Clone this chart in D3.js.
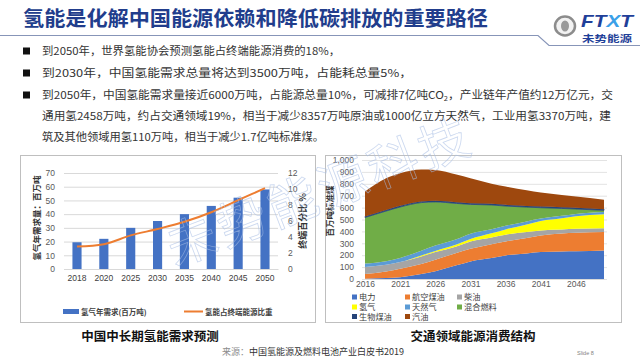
<!DOCTYPE html>
<html><head><meta charset="utf-8">
<script src="https://cdn.jsdelivr.net/npm/d3@7"></script>
<style>body{margin:0;background:#fff}svg{display:block}</style>
</head><body>
<svg id="c" width="640" height="360"></svg>
<script>
// ---------- data ----------
const titleText = "氢能是化解中国能源依赖和降低碳排放的重要路径";
const bulletLines = [
  "到2050年，世界氢能协会预测氢能占终端能源消费的18%，",
  "到2030年，中国氢能需求总量将达到3500万吨，占能耗总量5%，",
  "到2050年，中国氢能需求量接近6000万吨，占能源总量10%，可减排7亿吨CO|2|，产业链年产值约12万亿元，交",
  "通用氢2458万吨，约占交通领域19%，相当于减少8357万吨原油或1000亿立方天然气，工业用氢3370万吨，建",
  "筑及其他领域用氢110万吨，相当于减少1.7亿吨标准煤。"
];
const bulletMarks = [true, true, true, false, false];

const barYears = ["2018","2020","2025","2030","2035","2040","2045","2050"];
const h2Demand = [19.5, 22, 30, 35, 40, 46, 52, 58];     // 百万吨
const h2Share  = [2.8, 3.1, 4.2, 5.0, 5.9, 7.1, 8.6, 10.1]; // %
const leftTicks = [0,10,20,30,40,50,60,70];
const rightTicks = [0,2,4,6,8,10,12];

const areaYears = [2016,2019,2021,2024,2026,2029,2031,2034,2036,2039,2041,2044,2046,2050];
const power     = [3, 8, 15, 42, 65, 115, 148, 176, 198, 215, 226, 232, 234, 240];
const jetFuel   = [39, 56, 72, 84, 97, 103, 106, 117, 118, 129, 140, 151, 154, 154];
const diesel    = [58, 56, 55, 64, 64, 56, 62, 56, 56, 50, 42, 33, 34, 33];
const hydrogen  = [0, 0, 0, 8, 10, 15, 20, 35, 45, 65, 80, 95, 105, 118];
const natGas    = [30, 30, 35, 40, 45, 45, 45, 35, 30, 25, 20, 20, 20, 18];
const blended   = [387, 421, 428, 404, 367, 301, 246, 203, 166, 120, 91, 62, 41, 14];
const bioKero   = [8, 9, 10, 10, 10, 10, 10, 10, 10, 10, 10, 10, 10, 10];
const gasoline  = [210, 266, 273, 268, 258, 233, 209, 168, 154, 131, 117, 102, 95, 78];
const areaNames = ["电力","航空煤油","柴油","氢气","天然气","混合燃料","生物煤油","汽油"];
const areaColors = ["#4472C4","#ED7D31","#A5A5A5","#FFFF00","#5B9BD5","#70AD47","#264478","#9E480E"];
const areaTicksY = [0,100,200,300,400,500,600,700,800,900,1000];
const areaTicksX = [2016,2021,2026,2031,2036,2041,2046];

// ---------- drawing ----------
const svg = d3.select("#c");
const CJK = "'Noto Sans CJK SC','Noto Sans',sans-serif";
const LAT = "'Liberation Sans',Arial,sans-serif";
const MIX = "'Liberation Sans','Noto Sans CJK SC',sans-serif";
svg.append("rect").attr("width",640).attr("height",360).attr("fill","#fff");

// title
svg.append("text").attr("x",23).attr("y",26).attr("font-family",CJK).attr("font-weight","bold")
  .attr("font-size",20.5).attr("fill","#213d8c").attr("textLength",465).attr("lengthAdjust","spacingAndGlyphs")
  .text(titleText);
svg.append("path").attr("d","M0,35.5H538L549,45.5H640").attr("fill","none").attr("stroke","#8795b8").attr("stroke-width",1.2);

// logo
const logo = svg.append("g");
logo.append("ellipse").attr("cx",565).attr("cy",26).attr("rx",10).attr("ry",9.5).attr("fill","#f2f2f2").attr("stroke","#8c8c8c").attr("stroke-width",2.5);
logo.append("ellipse").attr("cx",565).attr("cy",26).attr("rx",4).attr("ry",5.5).attr("fill","#9a9a9a");
const ft = logo.append("text").attr("x",581).attr("y",27).attr("font-family",LAT)
  .attr("font-weight","bold").attr("font-style","italic").attr("font-size",17).attr("fill","#1f3f99")
  .attr("textLength",52).attr("lengthAdjust","spacingAndGlyphs");
ft.append("tspan").text("FT");
ft.append("tspan").attr("fill","#3aa0e8").text("X");
ft.append("tspan").text("T");
logo.append("text").attr("x",582).attr("y",41.5).attr("font-family",CJK).attr("font-weight","bold")
  .attr("font-size",9.5).attr("fill","#1f3f99").attr("textLength",50).attr("lengthAdjust","spacingAndGlyphs").text("未势能源");

// bullets
const bulletY = [51, 73, 95, 116, 137];
const bulletW = [298, 370, 571, 569, 282];
bulletLines.forEach((ln,i)=>{
  if (bulletMarks[i]) svg.append("rect").attr("x",23).attr("y",bulletY[i]-3.5).attr("width",7).attr("height",7).attr("fill","#111");
  const t = svg.append("text").attr("x",42).attr("y",bulletY[i]+4).attr("font-family",CJK)
    .attr("font-size",11).attr("fill","#333").attr("textLength",bulletW[i]).attr("lengthAdjust","spacingAndGlyphs");
  const parts = ln.split("|");
  parts.forEach((p,j)=>{
    const ts = t.append("tspan").text(p);
    if (j===1) ts.attr("font-size",7).attr("dy",2);
    if (j===2) ts.attr("dy",-2);
  });
});

// ---------- left chart ----------
svg.append("rect").attr("x",20.5).attr("y",155.5).attr("width",295).attr("height",167).attr("fill","#fff").attr("stroke","#bfbfbf");
const xL = d3.scaleBand().domain(barYears).range([64,278]).paddingInner(0.66).paddingOuter(0.314);
const yL = d3.scaleLinear().domain([0,70]).range([269,173]);
const yR = d3.scaleLinear().domain([0,12]).range([269,173]);
const gL = svg.append("g");
gL.append("g").attr("transform","translate(64,0)")
  .call(d3.axisLeft(yL).tickValues(leftTicks).tickSize(-214).tickPadding(9))
  .call(g=>{g.select(".domain").remove();
    g.selectAll(".tick line").attr("stroke","#d9d9d9");
    g.selectAll(".tick text").attr("fill","#595959").attr("font-size",8.5).attr("font-family",LAT);});
gL.append("g").attr("transform","translate(278,0)")
  .call(d3.axisRight(yR).tickValues(rightTicks).tickSize(0).tickPadding(10))
  .call(g=>{g.select(".domain").remove();
    g.selectAll(".tick text").attr("fill","#595959").attr("font-size",8.5).attr("font-family",LAT);});
gL.append("g").attr("transform","translate(0,269)")
  .call(d3.axisBottom(xL).tickSize(0).tickPadding(6))
  .call(g=>{g.select(".domain").attr("stroke","#d9d9d9");
    g.selectAll(".tick text").attr("fill","#404040").attr("font-size",8.5).attr("font-family",LAT);});
gL.selectAll("rect.bar").data(barYears).enter().append("rect").attr("class","bar")
  .attr("x",d=>xL(d)).attr("width",xL.bandwidth())
  .attr("y",(d,i)=>yL(h2Demand[i])).attr("height",(d,i)=>yL(0)-yL(h2Demand[i])).attr("fill","#4472C4");
gL.append("path").datum(barYears).attr("fill","none").attr("stroke","#ED7D31").attr("stroke-width",2)
  .attr("d",d3.line().x(d=>xL(d)+xL.bandwidth()/2).y((d,i)=>yR(h2Share[i])).curve(d3.curveMonotoneX));
gL.append("text").attr("transform","translate(40,218) rotate(-90)").attr("text-anchor","middle")
  .attr("font-family",CJK).attr("font-weight","bold").attr("font-size",8.5).attr("fill","#333").text("氢气年需求量：百万吨");
gL.append("text").attr("transform","translate(306,221) rotate(-90)").attr("text-anchor","middle")
  .attr("font-family",CJK).attr("font-weight","bold").attr("font-size",9).attr("fill","#333").text("终端百分比 %");
// legend
gL.append("rect").attr("x",63).attr("y",309).attr("width",16).attr("height",5).attr("fill","#4472C4");
gL.append("text").attr("x",81).attr("y",315).attr("font-family",CJK).attr("font-size",7.5).attr("font-weight","bold").attr("fill","#404040").text("氢气年需求(百万吨)");
gL.append("line").attr("x1",184).attr("x2",203).attr("y1",311.5).attr("y2",311.5).attr("stroke","#ED7D31").attr("stroke-width",2);
gL.append("text").attr("x",205).attr("y",315).attr("font-family",CJK).attr("font-size",7.5).attr("font-weight","bold").attr("fill","#404040").text("氢能占终端能源比重");

// ---------- right chart ----------
svg.append("rect").attr("x",325.5).attr("y",155.5).attr("width",296).attr("height",167).attr("fill","#fff").attr("stroke","#bfbfbf");
const xA = d3.scaleLinear().domain([2016,2050]).range([365,604]);
const yA = d3.scaleLinear().domain([0,1000]).range([279,160]);
const gR = svg.append("g");
gR.append("g").attr("transform","translate(365,0)")
  .call(d3.axisLeft(yA).tickValues(areaTicksY).tickSize(-242).tickPadding(11))
  .call(g=>{g.select(".domain").remove();
    g.selectAll(".tick line").attr("stroke","#e3e3e3").attr("x1",-3);
    g.selectAll(".tick text").attr("fill","#595959").attr("font-size",8.5).attr("font-family",LAT);});
const seriesArr = [power,jetFuel,diesel,hydrogen,natGas,blended,bioKero,gasoline];
const rows = areaYears.map((y,i)=>{const o={year:y}; areaNames.forEach((n,k)=>o[n]=seriesArr[k][i]); return o;});
const stacked = d3.stack().keys(areaNames)(rows);
const area = d3.area().x(d=>xA(d.data.year)).y0(d=>yA(d[0])).y1(d=>yA(d[1])).curve(d3.curveMonotoneX);
gR.selectAll("path.ar").data(stacked).enter().append("path").attr("class","ar")
  .attr("d",area).attr("fill",(d,i)=>areaColors[i]).attr("stroke",(d,i)=>i===6?"#264478":"none").attr("stroke-width",0.8);
gR.append("g").attr("transform","translate(0,279)")
  .call(d3.axisBottom(xA).tickValues(areaTicksX).tickFormat(d3.format("d")).tickSize(0).tickPadding(2))
  .call(g=>{g.select(".domain").attr("stroke","#d9d9d9");
    g.selectAll(".tick text").attr("fill","#595959").attr("font-size",8.5).attr("font-family",LAT);});
gR.append("text").attr("transform","translate(333,211) rotate(-90)").attr("text-anchor","middle")
  .attr("font-family",CJK).attr("font-weight","bold").attr("font-size",8.5).attr("fill","#333").text("百万吨标准煤");
// legend
const legX = [352,405,457], legY = [298.5,308.5,318];
areaNames.forEach((n,i)=>{
  const cx = legX[i%3], cy = legY[Math.floor(i/3)];
  gR.append("rect").attr("x",cx).attr("y",cy-4).attr("width",5).attr("height",5).attr("fill",areaColors[i]);
  gR.append("text").attr("x",cx+7).attr("y",cy+1.5).attr("font-family",MIX).attr("font-size",8.2).attr("fill","#404040").text(n);
});

// captions
svg.append("text").attr("x",150).attr("y",341).attr("text-anchor","middle").attr("font-family",CJK).attr("font-weight","bold")
  .attr("font-size",12.5).attr("fill","#111").text("中国中长期氢能需求预测");
svg.append("text").attr("x",473).attr("y",341).attr("text-anchor","middle").attr("font-family",CJK).attr("font-weight","bold")
  .attr("font-size",12.5).attr("fill","#111").text("交通领域能源消费结构");
const src = svg.append("text").attr("x",222).attr("y",355).attr("font-family",CJK).attr("font-size",9);
src.append("tspan").attr("fill","#8c8c8c").text("来源：");
src.append("tspan").attr("fill","#333").text("中国氢能源及燃料电池产业白皮书2019");
svg.append("text").attr("x",577).attr("y",355).attr("font-family",LAT).attr("font-size",5.5).attr("fill","#7f7f7f").text("Slide 8");

// watermark
svg.append("text").attr("transform","translate(318,188) rotate(-21)").attr("text-anchor","middle").attr("dominant-baseline","central")
  .attr("font-family",CJK).attr("font-size",50).attr("letter-spacing",4).attr("fill","none")
  .attr("stroke","#a9bfe6").attr("stroke-width",0.8).attr("opacity",0.6).text("未势能源科技");
</script>
</body></html>
